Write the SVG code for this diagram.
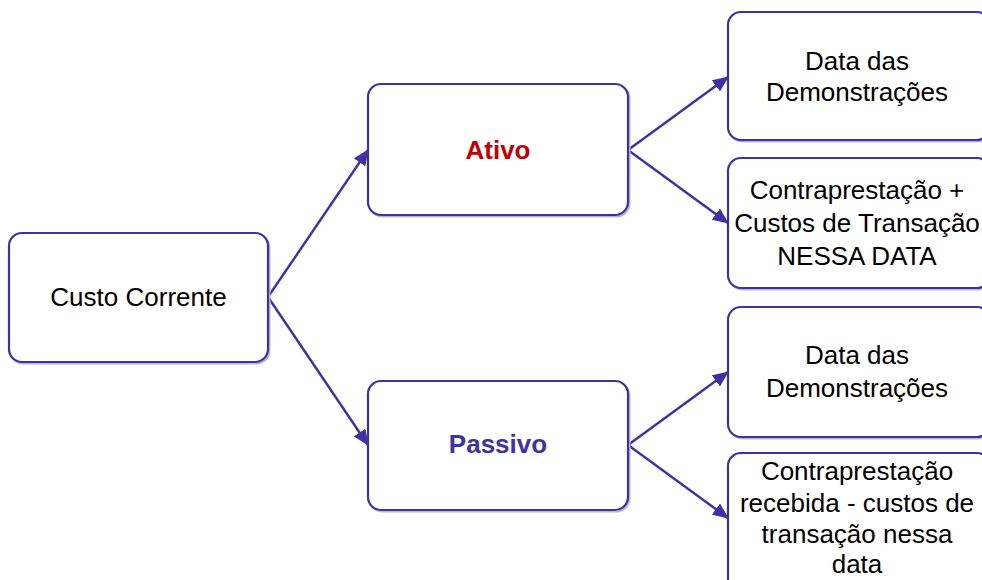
<svg xmlns="http://www.w3.org/2000/svg" width="982" height="580" viewBox="0 0 982 580">
<defs>
<marker id="ah" markerUnits="userSpaceOnUse" markerWidth="16" markerHeight="14" refX="15" refY="7" orient="auto">
<path d="M0,0 L16,7 L0,14 Z" fill="#3F31A3"/>
</marker>
<style>
.box{fill:#fff;stroke:#3F31A3;stroke-width:2.2}
.sh{fill:none;stroke:#b8b8c8;stroke-width:2}
.t{font-family:"Liberation Sans",Arial,sans-serif;font-size:26px;fill:#000;text-anchor:middle}
.b{font-weight:bold}
.c{stroke:#3F31A3;stroke-width:2.4;fill:none;marker-end:url(#ah)}
</style>
</defs>
<rect width="982" height="580" fill="#fff"/>
<g id="connectors">
<line class="c" x1="268" y1="297" x2="368" y2="150"/>
<line class="c" x1="268" y1="297" x2="368" y2="445"/>
<line class="c" x1="628" y1="150" x2="728" y2="77"/>
<line class="c" x1="628" y1="150" x2="728" y2="223"/>
<line class="c" x1="628" y1="445" x2="728" y2="372"/>
<line class="c" x1="628" y1="445" x2="728" y2="518"/>
</g>
<g id="custo">
<rect class="sh" x="10.5" y="234.5" width="259" height="129" rx="13"/>
<rect class="box" x="9" y="233" width="259" height="129" rx="13"/>
<text class="t" x="138.5" y="306">Custo Corrente</text>
</g>
<g id="ativo">
<rect class="sh" x="369.5" y="85.5" width="260" height="131" rx="13"/>
<rect class="box" x="368" y="84" width="260" height="131" rx="13"/>
<text class="t b" x="498" y="159" style="fill:#C00000">Ativo</text>
</g>
<g id="passivo">
<rect class="sh" x="369.5" y="382.5" width="260" height="129" rx="13"/>
<rect class="box" x="368" y="381" width="260" height="129" rx="13"/>
<text class="t b" x="498" y="453" style="fill:#4032A6">Passivo</text>
</g>
<g id="data1">
<rect class="sh" x="729.5" y="13.5" width="262" height="128" rx="13"/>
<rect class="box" x="728" y="12" width="262" height="128" rx="13"/>
<text class="t" x="857" y="70">Data das</text>
<text class="t" x="857" y="101">Demonstrações</text>
</g>
<g id="contra1">
<rect class="sh" x="729.5" y="159.5" width="262" height="130" rx="13"/>
<rect class="box" x="728" y="158" width="262" height="130" rx="13"/>
<text class="t" x="857" y="199">Contraprestação +</text>
<text class="t" x="857" y="232">Custos de Transação</text>
<text class="t" x="857" y="265">NESSA DATA</text>
</g>
<g id="data2">
<rect class="sh" x="729.5" y="308.5" width="262" height="130" rx="13"/>
<rect class="box" x="728" y="307" width="262" height="130" rx="13"/>
<text class="t" x="857" y="364">Data das</text>
<text class="t" x="857" y="397">Demonstrações</text>
</g>
<g id="contra2">
<rect class="sh" x="729.5" y="454.5" width="262" height="140" rx="13"/>
<rect class="box" x="728" y="453" width="262" height="140" rx="13"/>
<text class="t" x="857" y="480">Contraprestação</text>
<text class="t" x="857" y="512">recebida - custos de</text>
<text class="t" x="857" y="543">transação nessa</text>
<text class="t" x="857" y="573">data</text>
</g>
</svg>
